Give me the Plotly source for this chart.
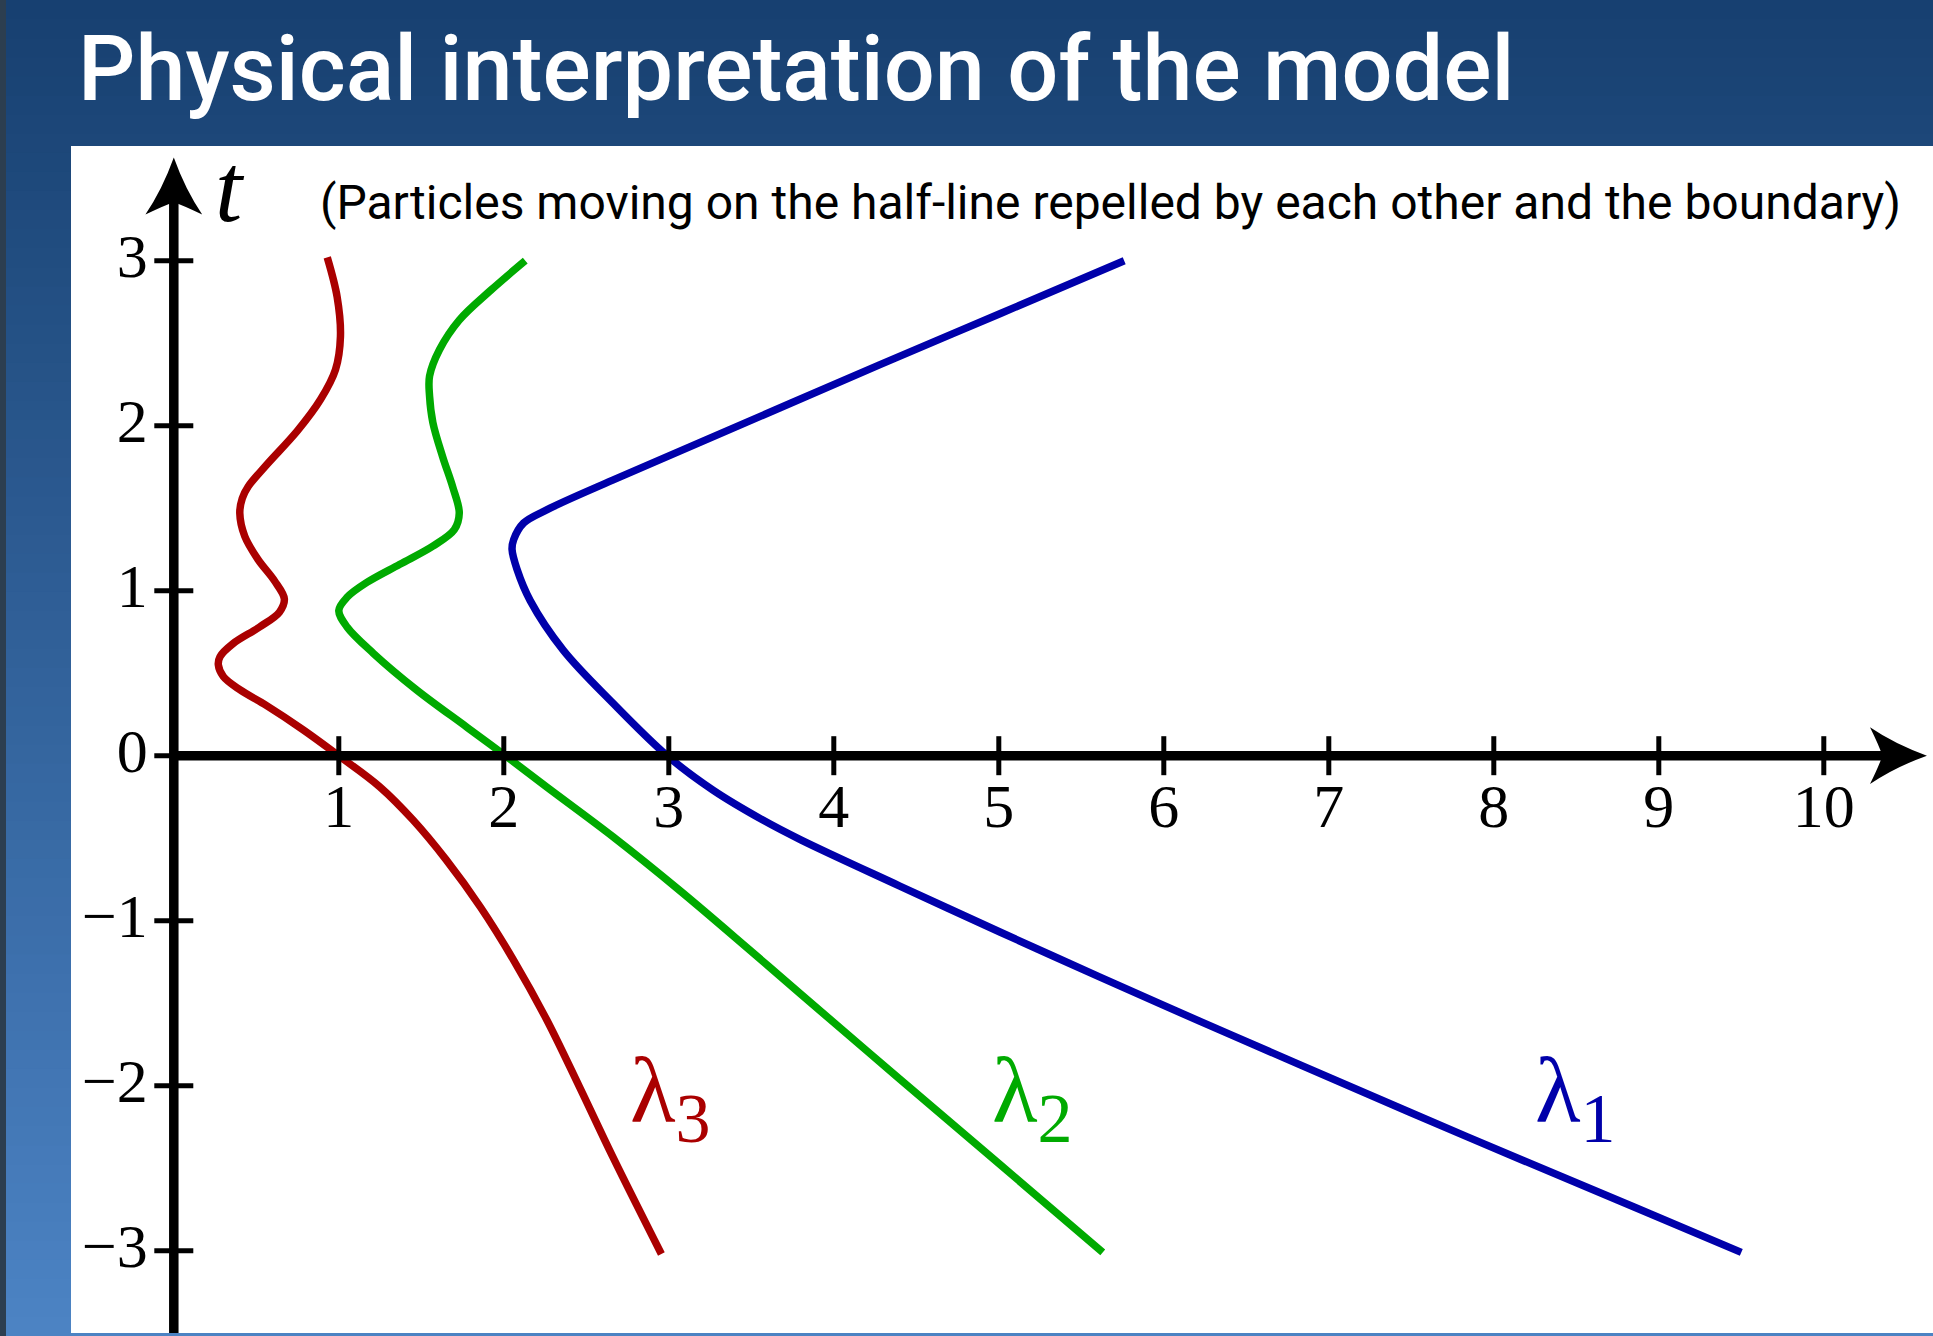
import plotly.graph_objects as go

# ---------------- data ----------------
X_TICKS = [1, 2, 3, 4, 5, 6, 7, 8, 9, 10]
X_TICK_LABELS = ["1", "2", "3", "4", "5", "6", "7", "8", "9", "10"]
Y_TICKS = [-3, -2, -1, 0, 1, 2, 3]
Y_TICK_LABELS = ["\u22123", "\u22122", "\u22121", "0", "1", "2", "3"]

# particle trajectories: position x as a function of time t
T_L3 = [3.02, 2.78, 2.54, 2.34, 2.16, 1.97, 1.76, 1.63, 1.56, 1.47, 1.33, 1.19, 1.06, 0.95,
        0.87, 0.78, 0.68, 0.60, 0.55, 0.48, 0.40, 0.305, 0.16, 0.00, -0.19, -0.39, -0.63,
        -0.92, -1.24, -1.60, -2.01, -2.43, -3.02]
X_L3 = [0.93, 0.99, 1.01, 0.98, 0.89, 0.75, 0.56, 0.45, 0.415, 0.40, 0.43, 0.51, 0.61, 0.67,
        0.64, 0.52, 0.36, 0.28, 0.27, 0.30, 0.40, 0.56, 0.78, 1.00, 1.25, 1.45, 1.65,
        1.86, 2.06, 2.26, 2.46, 2.66, 2.955]

T_L2 = [3.00, 2.82, 2.64, 2.46, 2.30, 2.18, 2.02, 1.81, 1.63, 1.47, 1.37, 1.27, 1.16, 1.05,
        0.96, 0.88, 0.78, 0.62, 0.40, 0.17, 0.00, -0.19, -0.49, -0.82, -1.16, -1.445, -1.96,
        -2.48, -3.01]
X_L2 = [2.13, 1.92, 1.73, 1.61, 1.55, 1.55, 1.57, 1.63, 1.69, 1.73, 1.70, 1.57, 1.37, 1.17,
        1.05, 1.00, 1.05, 1.21, 1.47, 1.78, 2.01, 2.26, 2.66, 3.07, 3.47, 3.80, 4.40,
        5.01, 5.63]

T_L1 = [3.00, 2.68, 2.37, 2.02, 1.67, 1.49, 1.41, 1.31, 1.25, 1.13, 0.94, 0.64, 0.32, 0.00,
        -0.21, -0.39, -0.51, -0.79, -1.07, -1.34, -1.61, -1.875, -2.31, -2.735, -3.01]
X_L1 = [5.76, 5.01, 4.28, 3.47, 2.66, 2.26, 2.12, 2.06, 2.05, 2.08, 2.16, 2.36, 2.66, 2.99,
        3.27, 3.57, 3.80, 4.40, 5.01, 5.61, 6.22, 6.83, 7.84, 8.85, 9.50]

SERIES_SYMBOL = "\u03bb"
SERIES_INDEX = ["1", "2", "3"]
LABEL_X = [8.24, 4.945, 2.75]
LABEL_T = [-2.07, -2.07, -2.07]

TITLE = "Physical interpretation of the model"
SUBTITLE = "(Particles moving on the half-line repelled by each other and the boundary)"
T_LABEL = "t"

# ---------------- layout geometry ----------------
W, H = 1933, 1336
ML, MR, MT, MB = 71, 0, 146, 3
X0PX, Y0PX, UNIT = 173.8, 755.7, 165.0
PW, PH = W - ML - MR, H - MT - MB
XR = [(ML - X0PX) / UNIT, (W - MR - X0PX) / UNIT]
YR = [(Y0PX - (H - MB)) / UNIT, (Y0PX - MT) / UNIT]

def px_to_paper_x(X):
    return (X - ML) / PW

def px_to_paper_y(Y):
    return (H - MB - Y) / PH

BLUE, GREEN, RED = "#0000aa", "#00aa00", "#aa0000"
SERIF = "Liberation Serif, Times New Roman, serif"
SANS = "Roboto, Open Sans, sans-serif"

fig = go.Figure()
for xs, ts, col in [(X_L1, T_L1, BLUE), (X_L2, T_L2, GREEN), (X_L3, T_L3, RED)]:
    fig.add_trace(go.Scatter(x=xs, y=ts, mode="lines",
                             line=dict(color=col, width=7.5, shape="spline", smoothing=1.0,
                                       simplify=False),
                             showlegend=False, hoverinfo="skip"))

shapes = []
# background gradient
c0, c1 = (23, 64, 112), (76, 131, 196)
NB = 70
for i in range(NB):
    f = (i + 0.5) / NB
    c = tuple(int(round(c0[k] + (c1[k] - c0[k]) * f)) for k in range(3))
    y_top = H * i / NB
    y_bot = H * (i + 1) / NB + 1
    shapes.append(dict(type="rect", xref="paper", yref="paper", layer="below",
                       x0=px_to_paper_x(0), x1=px_to_paper_x(W),
                       y0=px_to_paper_y(y_bot), y1=px_to_paper_y(y_top),
                       line=dict(width=0), fillcolor="rgb(%d,%d,%d)" % c))
# dark left border
shapes.append(dict(type="rect", xref="paper", yref="paper", layer="below",
                   x0=px_to_paper_x(0), x1=px_to_paper_x(6),
                   y0=px_to_paper_y(H), y1=px_to_paper_y(0),
                   line=dict(width=0), fillcolor="#2c3e50"))
# white plot panel
shapes.append(dict(type="rect", xref="paper", yref="paper", layer="below",
                   x0=0, x1=1, y0=0, y1=1, line=dict(width=0), fillcolor="white"))

# axes lines
AX_W = 9.5
shapes.append(dict(type="line", xref="x", yref="y", x0=0, x1=0, y0=YR[0] - 0.1, y1=3.40,
                   line=dict(color="black", width=AX_W)))
shapes.append(dict(type="line", xref="x", yref="y", x0=0, x1=10.37, y0=0, y1=0,
                   line=dict(color="black", width=AX_W)))
# ticks
TH = 19.5 / UNIT
for v in X_TICKS:
    shapes.append(dict(type="line", xref="x", yref="y", x0=v, x1=v, y0=-TH, y1=TH,
                       line=dict(color="black", width=5)))
for v in Y_TICKS:
    shapes.append(dict(type="line", xref="x", yref="y", x0=-TH, x1=TH, y0=v, y1=v,
                       line=dict(color="black", width=5)))
# arrow heads
shapes.append(dict(type="path", xref="x", yref="y", line=dict(width=0), fillcolor="black",
                   path="M 0,3.625 Q -0.07,3.43 -0.172,3.28 Q -0.06,3.335 0,3.355 "
                        "Q 0.06,3.335 0.172,3.28 Q 0.07,3.43 0,3.625 Z"))
shapes.append(dict(type="path", xref="x", yref="y", line=dict(width=0), fillcolor="black",
                   path="M 10.625,0 Q 10.43,-0.07 10.28,-0.172 Q 10.335,-0.06 10.355,0 "
                        "Q 10.335,0.06 10.28,0.172 Q 10.43,0.07 10.625,0 Z"))

annotations = [
    dict(xref="paper", yref="paper", x=px_to_paper_x(76), y=px_to_paper_y(70),
         xanchor="left", yanchor="middle", showarrow=False, text=TITLE,
         font=dict(family=SANS, size=90, color="white", weight=500)),
    dict(xref="paper", yref="paper", x=px_to_paper_x(318), y=px_to_paper_y(202),
         xanchor="left", yanchor="middle", showarrow=False, text=SUBTITLE,
         font=dict(family=SANS, size=48, color="black")),
    dict(xref="x", yref="y", x=0.34, y=3.44, xanchor="center", yanchor="middle",
         showarrow=False, text="<i>%s</i>" % T_LABEL,
         font=dict(family=SERIF, size=98, color="black")),
]
for idx, lx, lt, col in zip(SERIES_INDEX, LABEL_X, LABEL_T, [BLUE, GREEN, RED]):
    annotations.append(dict(xref="x", yref="y", x=lx, y=lt, xanchor="left", yanchor="middle",
                            showarrow=False,
                            text="%s<sub><span style='font-size:70px'>%s</span></sub>"
                                 % (SERIES_SYMBOL, idx),
                            font=dict(family=SERIF, size=94, color=col)))

fig.update_layout(
    width=W, height=H,
    margin=dict(l=ML, r=MR, t=MT, b=MB, pad=0),
    paper_bgcolor="rgb(23,64,112)", plot_bgcolor="white",
    shapes=shapes, annotations=annotations,
    xaxis=dict(range=XR, anchor="free", position=(0 - YR[0]) / (YR[1] - YR[0]),
               showgrid=False, zeroline=False, showline=False, ticks="",
               tickvals=X_TICKS, ticktext=X_TICK_LABELS, ticklabelstandoff=8,
               tickfont=dict(family=SERIF, size=62, color="black"), fixedrange=True),
    yaxis=dict(range=YR, anchor="free", position=(0 - XR[0]) / (XR[1] - XR[0]),
               showgrid=False, zeroline=False, showline=False, ticks="",
               tickvals=Y_TICKS, ticktext=Y_TICK_LABELS, ticklabelstandoff=26,
               ticklabelshift=-5,
               tickfont=dict(family=SERIF, size=62, color="black"), fixedrange=True),
    showlegend=False,
)

fig.write_html("out.html", config={"displayModeBar": False},
               post_script="document.body.style.margin='0';document.body.style.overflow='hidden';")
